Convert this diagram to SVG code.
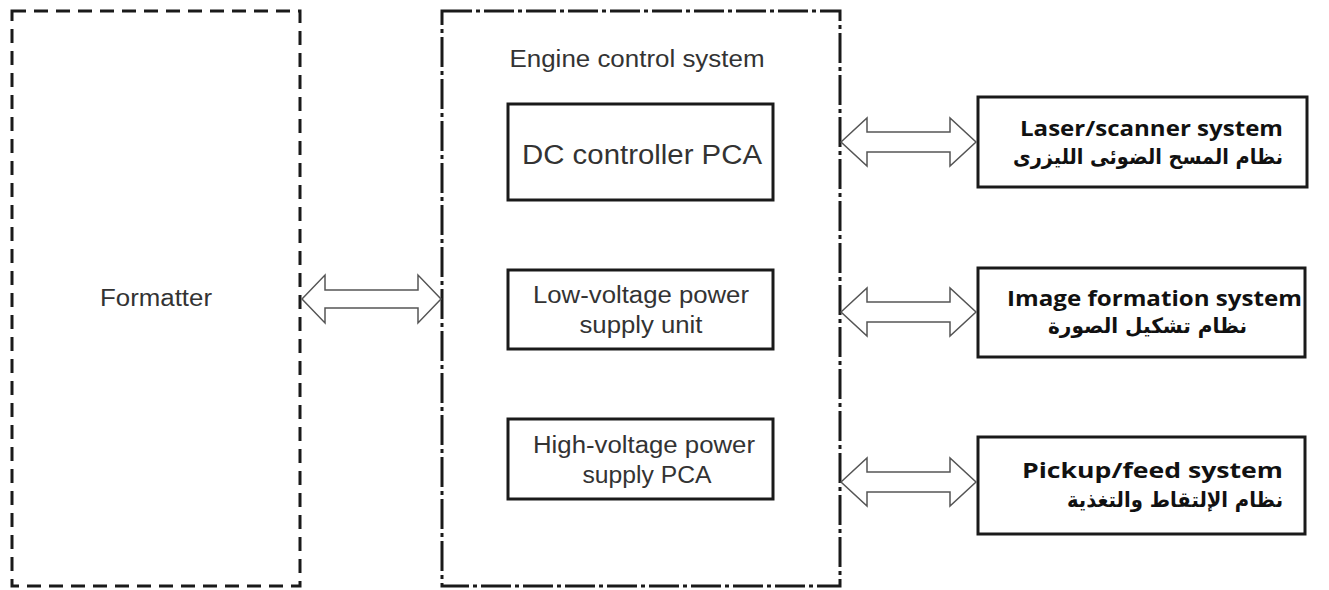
<svg xmlns="http://www.w3.org/2000/svg" width="1329" height="590" viewBox="0 0 1329 590">
<style>
.dash{fill:none;stroke:#1a1a1a;stroke-width:3;stroke-dasharray:14 8}
.dashdot{fill:none;stroke:#1a1a1a;stroke-width:3;stroke-dasharray:30 4 4 4}
.box{fill:#fff;stroke:#1a1a1a;stroke-width:3}
.t{font-family:"Liberation Sans",Arial,sans-serif;fill:#333;text-anchor:middle}
.b{font-family:"Open Sans","Liberation Sans",sans-serif;font-weight:bold;fill:#111;font-size:21px}
.ar{font-family:"DejaVu Sans","Noto Sans",sans-serif;font-weight:bold;fill:#111;font-size:21px}
.arrow{fill:#fff;stroke:#555;stroke-width:1.5;stroke-linejoin:miter}
</style>
<rect width="1329" height="590" fill="#fff"/>
<g id="formatter">
<rect class="dash" x="12" y="11" width="288" height="575"/>
<text class="t" x="156" y="306" font-size="23" textLength="112" lengthAdjust="spacingAndGlyphs">Formatter</text>
</g>
<g id="engine">
<rect class="dashdot" x="442" y="11" width="398" height="575"/>
<text class="t" x="637" y="67" font-size="23" textLength="255" lengthAdjust="spacingAndGlyphs">Engine control system</text>
</g>
<g id="dc">
<rect class="box" x="508" y="104" width="265" height="96"/>
<text class="t" x="642" y="164" font-size="27" textLength="240" lengthAdjust="spacingAndGlyphs">DC controller PCA</text>
</g>
<g id="lv">
<rect class="box" x="508" y="270" width="265" height="79"/>
<text class="t" x="641" y="303" font-size="23" textLength="216" lengthAdjust="spacingAndGlyphs">Low-voltage power</text>
<text class="t" x="641" y="333" font-size="23" textLength="123" lengthAdjust="spacingAndGlyphs">supply unit</text>
</g>
<g id="hv">
<rect class="box" x="508" y="419" width="265" height="80"/>
<text class="t" x="644" y="453" font-size="23" textLength="222" lengthAdjust="spacingAndGlyphs">High-voltage power</text>
<text class="t" x="647" y="483" font-size="23" textLength="129" lengthAdjust="spacingAndGlyphs">supply PCA</text>
</g>
<g id="laser">
<rect class="box" x="978" y="97" width="329" height="90"/>
<text class="b" x="1020" y="136" textLength="263" lengthAdjust="spacingAndGlyphs">Laser/scanner system</text>
<text class="ar" x="1013" y="164" textLength="270" lengthAdjust="spacingAndGlyphs">نظام المسح الضوئى الليزرى</text>
</g>
<g id="image">
<rect class="box" x="978" y="268" width="327" height="89"/>
<text class="b" x="1007" y="306" textLength="295" lengthAdjust="spacingAndGlyphs">Image formation system</text>
<text class="ar" x="1048" y="333" textLength="199" lengthAdjust="spacingAndGlyphs">نظام تشكيل الصورة</text>
</g>
<g id="pickup">
<rect class="box" x="978" y="437" width="327" height="97"/>
<text class="b" x="1022" y="478" textLength="261" lengthAdjust="spacingAndGlyphs">Pickup/feed system</text>
<text class="ar" x="1067" y="507" textLength="216" lengthAdjust="spacingAndGlyphs">نظام الإلتقاط والتغذية</text>
</g>
<g id="connectors">
<path class="arrow" d="M302,299 L325,275 L325,290 L418,290 L418,275 L441,299 L418,323 L418,308 L325,308 L325,323 Z"/>
<path class="arrow" d="M841,142 L867,118 L867,132 L950,132 L950,118 L976,142 L950,166 L950,152 L867,152 L867,166 Z"/>
<path class="arrow" d="M841,312 L867,288 L867,302 L950,302 L950,288 L976,312 L950,336 L950,322 L867,322 L867,336 Z"/>
<path class="arrow" d="M841,482 L867,458 L867,472 L950,472 L950,458 L976,482 L950,506 L950,492 L867,492 L867,506 Z"/>
</g>
</svg>
